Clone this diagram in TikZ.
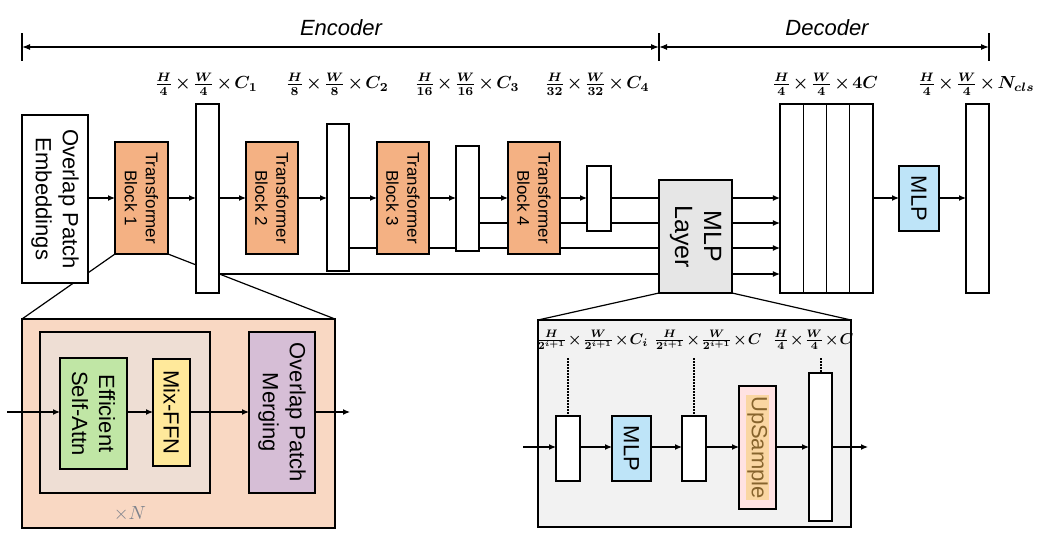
\documentclass[tikz,border=0pt]{standalone}
\usepackage[no-math]{fontspec}
\usepackage{graphicx}
\setmainfont{Liberation Sans}
\usetikzlibrary{arrows.meta,backgrounds}
\definecolor{tbor}{RGB}{244,177,131}
\definecolor{peach}{RGB}{249,216,195}
\definecolor{innerbg}{RGB}{238,222,212}
\definecolor{esag}{RGB}{192,230,165}
\definecolor{mixy}{RGB}{255,233,155}
\definecolor{opml}{RGB}{214,190,214}
\definecolor{mlpb}{RGB}{190,228,248}
\definecolor{layg}{RGB}{230,230,230}
\definecolor{panelg}{RGB}{242,242,242}
\definecolor{uppink}{RGB}{255,226,226}
\definecolor{uphl}{RGB}{250,214,162}
\definecolor{uptxt}{RGB}{135,100,45}
\definecolor{xgray}{RGB}{125,130,140}
\newcommand{\toplabmath}[1]{\scalebox{1.75}{\boldmath$\medmuskip=2mu #1$}}
\newcommand{\sublabmath}[1]{\scalebox{1.55}{\boldmath$\medmuskip=1mu #1$}}
\tikzset{
  box/.style={draw, line width=1.2pt, inner sep=0pt, outer sep=0pt},
  fmap/.style={box, fill=white},
  tbox/.style={box, fill=tbor, minimum width=53pt, minimum height=112pt},
  vt/.style={rotate=-90, align=center, inner sep=0pt, font=\fontsize{22}{27}\selectfont},
  vtsmall/.style={rotate=-90, align=center, inner sep=0pt, font=\fontsize{17}{21}\selectfont},
  arr/.style={-{Latex[length=7pt,width=6pt]}, line width=1.2pt},
  plain/.style={line width=1.2pt},
  dimarr/.style={{Latex[length=8pt,width=6pt]}-{Latex[length=8pt,width=6pt]}, line width=1.2pt},
  mlab/.style={inner sep=0pt, font=\normalsize},
  dots/.style={line width=1.5pt, dash pattern=on 1.5pt off 1.5pt},
}
\begin{document}
\begin{tikzpicture}[x=1pt,y=-1pt]
\useasboundingbox (0,0) rectangle (1045,549);
% reference rows
\coordinate (y1) at (0,198);
\coordinate (y2) at (0,223);
\coordinate (y3) at (0,248);
\coordinate (y4) at (0,274);

% dimension arrows
\coordinate (e1) at (22,47);
\coordinate (e2) at (659,47);
\coordinate (e3) at (989,47);
\coordinate (t1a) at (22,33); \coordinate (t1b) at (22,61);
\coordinate (t2a) at (659,33); \coordinate (t2b) at (659,61);
\coordinate (t3a) at (989,33); \coordinate (t3b) at (989,61);
\draw[plain] (t1a) -- (t1b);
\draw[plain] (t2a) -- (t2b);
\draw[plain] (t3a) -- (t3b);
\draw[dimarr] (e1) -- (e2);
\draw[dimarr] (e2) -- (e3);
\node[font=\fontsize{22}{26}\selectfont\itshape] (enc) at (341,28) {Encoder};
\node[font=\fontsize{22}{26}\selectfont\itshape] (dec) at (827,28) {Decoder};

% encoder
\node[fmap, minimum width=66pt, minimum height=168pt] (emb) at (55,199) {};
\node[vt] (embt) at (emb.center) {Overlap Patch\\Embeddings};
\node[tbox] (tb1) at (141.5,198) {};
\node[vtsmall] (tb1t) at (tb1.center) {Transformer\\Block 1};
\node[fmap, minimum width=23pt, minimum height=189pt] (f1) at (207.5,198.5) {};
\node[tbox, minimum width=52pt] (tb2) at (272,198) {};
\node[vtsmall] (tb2t) at (tb2.center) {Transformer\\Block 2};
\node[fmap, minimum width=22pt, minimum height=147pt] (f2) at (338,197.5) {};
\node[tbox, minimum width=52pt] (tb3) at (403,198) {};
\node[vtsmall] (tb3t) at (tb3.center) {Transformer\\Block 3};
\node[fmap, minimum width=23pt, minimum height=105pt] (f3) at (467.5,198.5) {};
\node[tbox, minimum width=52pt] (tb4) at (534,198) {};
\node[vtsmall] (tb4t) at (tb4.center) {Transformer\\Block 4};
\node[fmap, minimum width=24pt, minimum height=65pt] (f4) at (599,198.5) {};
\node[box, fill=layg, minimum width=73pt, minimum height=113pt] (mlpl) at (695.5,236.5) {};
\node[vt, font=\fontsize{25}{29}\selectfont] (mlplt) at (mlpl.center) {MLP\\Layer};

% decoder
\node[box, fill=white, minimum width=93pt, minimum height=189pt] (dst) at (826.5,198.5) {};
\node[box, minimum width=23.25pt, minimum height=189pt] (d1) at (791.6,198.5) {};
\node[box, minimum width=23.25pt, minimum height=189pt] (d2) at (814.9,198.5) {};
\node[box, minimum width=23.25pt, minimum height=189pt] (d3) at (838.1,198.5) {};
\node[box, minimum width=23.25pt, minimum height=189pt] (d4) at (861.4,198.5) {};
\node[box, fill=mlpb, minimum width=40pt, minimum height=65pt] (mlp2) at (919,198.5) {};
\node[vt] (mlp2t) at (mlp2.center) {MLP};
\node[fmap, minimum width=23pt, minimum height=189pt] (fo) at (977.5,198.5) {};

% top labels
\node[mlab] (l1) at (206,84) {\toplabmath{\frac{H}{4}\times\frac{W}{4}\times C_1}};
\node[mlab] (l2) at (337,84) {\toplabmath{\frac{H}{8}\times\frac{W}{8}\times C_2}};
\node[mlab] (l3) at (467,84) {\toplabmath{\frac{H}{16}\times\frac{W}{16}\times C_3}};
\node[mlab] (l4) at (597,84) {\toplabmath{\frac{H}{32}\times\frac{W}{32}\times C_4}};
\node[mlab] (l5) at (825,84) {\toplabmath{\frac{H}{4}\times\frac{W}{4}\times 4C}};
\node[mlab] (l6) at (976,84) {\toplabmath{\frac{H}{4}\times\frac{W}{4}\times N_{cls}}};

% main arrows
\draw[arr] (emb.east |- y1) -- (tb1.west |- y1);
\draw[arr] (tb1.east |- y1) -- (f1.west |- y1);
\draw[arr] (f1.east |- y1) -- (tb2.west |- y1);
\draw[arr] (tb2.east |- y1) -- (f2.west |- y1);
\draw[arr] (f2.east |- y1) -- (tb3.west |- y1);
\draw[arr] (tb3.east |- y1) -- (f3.west |- y1);
\draw[arr] (f3.east |- y1) -- (tb4.west |- y1);
\draw[arr] (tb4.east |- y1) -- (f4.west |- y1);
\draw[plain] (f4.east |- y1) -- (mlpl.west |- y1);
\draw[arr] (mlpl.east |- y1) -- (d1.west |- y1);
\draw[arr] (mlpl.east |- y2) -- (d1.west |- y2);
\draw[arr] (mlpl.east |- y3) -- (d1.west |- y3);
\draw[arr] (mlpl.east |- y4) -- (d1.west |- y4);
\draw[arr] (d4.east |- y1) -- (mlp2.west |- y1);
\draw[arr] (mlp2.east |- y1) -- (fo.west |- y1);

% bottom-left panel
\node[box, fill=peach, minimum width=313pt, minimum height=209pt] (blo) at (178.5,423.5) {};
\node[box, fill=innerbg, minimum width=170pt, minimum height=161pt] (bli) at (125,412.5) {};
\node[box, fill=esag, minimum width=67pt, minimum height=111pt] (esa) at (93.5,413.5) {};
\node[vt] (esat) at (esa.center) {Efficient\\Self-Attn};
\node[box, fill=mixy, minimum width=37pt, minimum height=107pt] (mix) at (171.5,412.5) {};
\node[vt] (mixt) at (mix.center) {Mix-FFN};
\node[box, fill=opml, minimum width=66pt, minimum height=161pt] (opm) at (282,412.5) {};
\node[vt] (opmt) at (opm.center) {Overlap Patch\\Merging};
\node[text=xgray, inner sep=0pt, font=\normalsize] (xn) at (130,514) {\scalebox{1.9}{$\times N$}};
\coordinate (bin) at (7,412);
\coordinate (bout) at (350,412);
\draw[arr] (bin) -- (esa.west |- bin);
\draw[arr] (esa.east |- bin) -- (mix.west |- bin);
\draw[arr] (mix.east |- bin) -- (opm.west |- bin);
\draw[arr] (opm.east |- bin) -- (bout);

% bottom-right panel
\node[box, fill=panelg, minimum width=313pt, minimum height=207pt] (bro) at (694.5,423.5) {};
\node[fmap, minimum width=24pt, minimum height=65pt] (fa) at (568,448.5) {};
\node[box, fill=mlpb, minimum width=39pt, minimum height=65pt] (mlp3) at (631.5,448.5) {};
\node[vt] (mlp3t) at (mlp3.center) {MLP};
\node[fmap, minimum width=24pt, minimum height=65pt] (fb) at (694,448.5) {};
\node[box, fill=uppink, minimum width=37pt, minimum height=123pt] (up) at (757.5,447.5) {};
\node[vt, fill=uphl, text=uptxt, inner sep=1pt] (upt) at (up.center) {UpSample};
\node[fmap, minimum width=23pt, minimum height=148pt] (fc) at (820.5,447) {};
\node[mlab] (s1) at (592,340) {\sublabmath{\frac{H}{2^{i+1}}\times\frac{W}{2^{i+1}}\times C_i}};
\node[mlab] (s2) at (708,340) {\sublabmath{\frac{H}{2^{i+1}}\times\frac{W}{2^{i+1}}\times C}};
\node[mlab] (s3) at (813,340) {\sublabmath{\frac{H}{4}\times\frac{W}{4}\times C}};
\coordinate (da) at (568,358);
\coordinate (db) at (694,358);
\coordinate (dc) at (821,358);
\draw[dots] (da) -- (da |- fa.north);
\draw[dots] (db) -- (db |- fb.north);
\draw[dots] (dc) -- (dc |- fc.north);
\coordinate (rin) at (523,447);
\coordinate (rout) at (868,447);
\draw[arr] (rin) -- (fa.west |- rin);
\draw[arr] (fa.east |- rin) -- (mlp3.west |- rin);
\draw[arr] (mlp3.east |- rin) -- (fb.west |- rin);
\draw[arr] (fb.east |- rin) -- (up.west |- rin);
\draw[arr] (up.east |- rin) -- (fc.west |- rin);
\draw[arr] (fc.east |- rin) -- (rout);

% lines behind boxes
\begin{pgfonlayer}{background}
\draw[plain] (f3.east |- y2) -- (mlpl.west |- y2);
\draw[plain] (f2.east |- y3) -- (mlpl.west |- y3);
\draw[plain] (f1.east |- y4) -- (mlpl.west |- y4);
\draw[plain] (tb1.south west) -- (blo.north west);
\draw[plain] (tb1.south east) -- (blo.north east);
\draw[plain] (mlpl.south west) -- (bro.north west);
\draw[plain] (mlpl.south east) -- (bro.north east);
\end{pgfonlayer}
\end{tikzpicture}
\end{document}
